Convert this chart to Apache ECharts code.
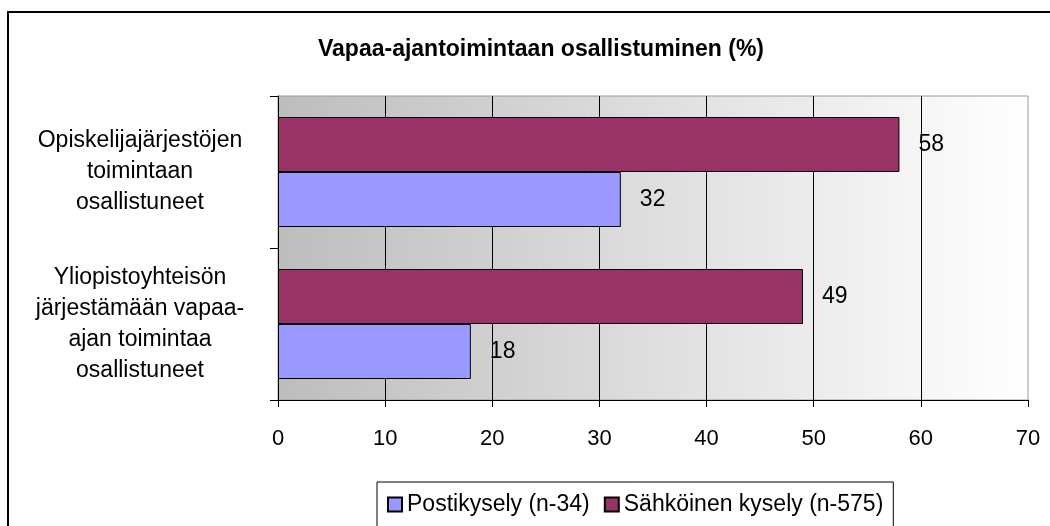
<!DOCTYPE html>
<html>
<head>
<meta charset="utf-8">
<script src="https://cdn.jsdelivr.net/npm/echarts@6/dist/echarts.min.js"></script>
<style>
  html, body { margin: 0; padding: 0; background: #fff; }
  #chart { width: 1050px; height: 526px; }
</style>
</head>
<body>
<div id="chart"></div>
<script>
const categories = [
  "Opiskelijajärjestöjen\ntoimintaan\nosallistuneet",
  "Yliopistoyhteisön\njärjestämään vapaa-\najan toimintaa\nosallistuneet"
];
const seriesNames = ["Postikysely (n-34)", "Sähköinen kysely (n-575)"];
const postiValues = [32, 18];
const sahkoValues = [58, 49];
const xTicks = { min: 0, max: 70, interval: 10 };

const labelFont = "Liberation Sans, Arial, sans-serif";

const valueLabel = {
  show: true,
  position: "right",
  distance: 19,
  color: "#000",
  fontSize: 23,
  fontFamily: labelFont
};

const option = {
  animation: false,
  backgroundColor: "#fff",
  title: {
    text: "Vapaa-ajantoimintaan osallistuminen (%)",
    left: 536,
    textAlign: "center",
    top: 33,
    textStyle: {
      fontSize: 23,
      fontWeight: "bold",
      color: "#000",
      fontFamily: labelFont
    }
  },
  graphic: [
    {
      type: "rect",
      shape: { x: 8, y: 12, width: 1100, height: 600 },
      style: { fill: null, stroke: "#000", lineWidth: 2 },
      z: 100
    }
  ],
  legend: {
    data: seriesNames,
    left: 377,
    top: 482,
    orient: "horizontal",
    padding: [11, 10, 40, 10],
    itemGap: 14,
    itemWidth: 14,
    itemHeight: 14,
    icon: "rect",
    borderColor: "#000",
    borderWidth: 1,
    textStyle: { fontSize: 23, color: "#000", fontFamily: labelFont }
  },
  grid: {
    left: 278,
    right: 22,
    top: 96,
    bottom: 126,
    show: true,
    borderColor: "#9a9a9a",
    borderWidth: 1,
    backgroundColor: new echarts.graphic.LinearGradient(0, 0, 1, 0, [
      { offset: 0, color: "#bdbdbd" },
      { offset: 1, color: "#ffffff" }
    ])
  },
  xAxis: {
    type: "value",
    min: xTicks.min,
    max: xTicks.max,
    interval: xTicks.interval,
    axisLine: { show: true, lineStyle: { color: "#000", width: 1 } },
    axisTick: { show: true, length: 7, lineStyle: { color: "#000" } },
    axisLabel: { color: "#000", fontSize: 22, margin: 28, fontFamily: labelFont },
    splitLine: {
      show: true,
      showMinLine: false,
      showMaxLine: false,
      lineStyle: { color: "#000", width: 1 }
    }
  },
  yAxis: {
    type: "category",
    data: categories,
    inverse: true,
    axisLine: { show: true, lineStyle: { color: "#000", width: 1 } },
    axisTick: { show: true, length: 8, lineStyle: { color: "#000" } },
    axisLabel: {
      color: "#000",
      fontSize: 23,
      lineHeight: 31,
      align: "center",
      margin: 138,
      fontFamily: labelFont
    }
  },
  series: [
    {
      name: seriesNames[1],
      type: "bar",
      data: sahkoValues,
      barWidth: 55,
      barGap: "0%",
      itemStyle: { color: "#993366", borderColor: "#000", borderWidth: 1 },
      label: valueLabel
    },
    {
      name: seriesNames[0],
      type: "bar",
      data: postiValues,
      barWidth: 55,
      barGap: "0%",
      itemStyle: { color: "#9999ff", borderColor: "#000", borderWidth: 1 },
      label: valueLabel
    }
  ]
};

const chart = echarts.init(document.getElementById("chart"));
chart.setOption(option);
</script>
</body>
</html>
